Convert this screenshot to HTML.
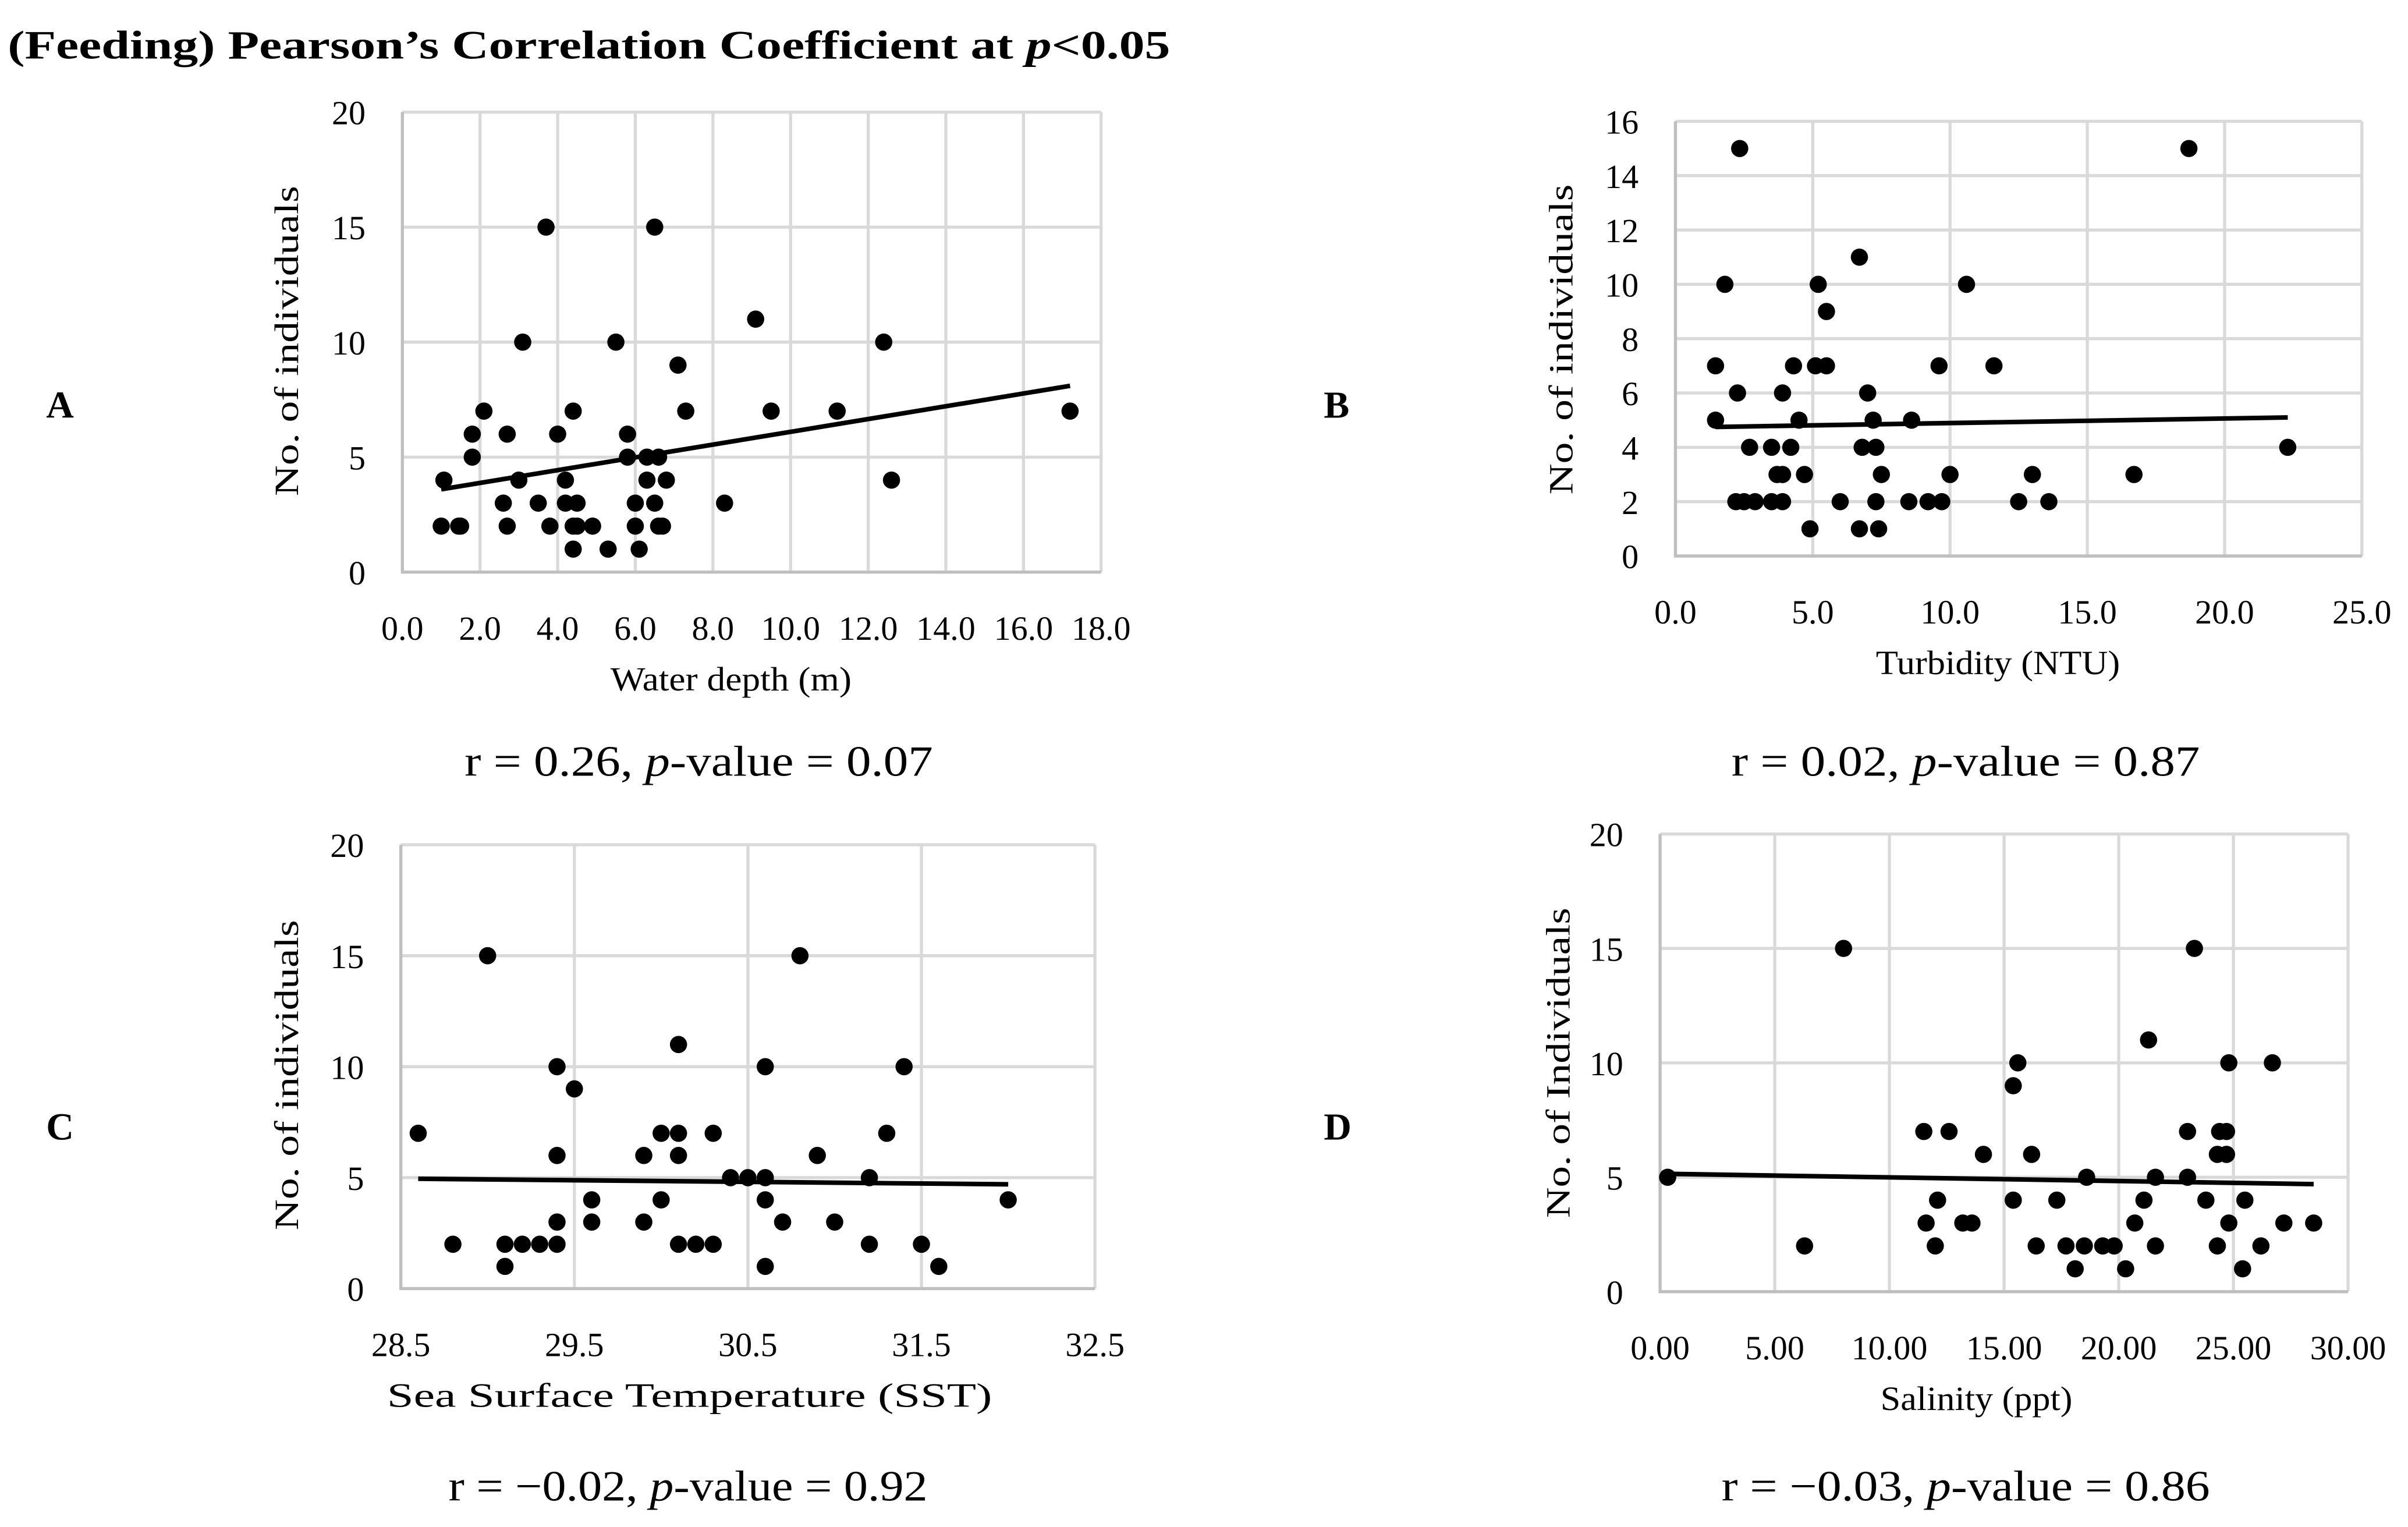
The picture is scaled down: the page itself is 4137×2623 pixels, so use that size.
<!DOCTYPE html>
<html><head><meta charset="utf-8"><style>
html,body{margin:0;padding:0;background:#fff;}
svg{display:block;font-family:"Liberation Serif",serif;}
</style></head><body>
<svg id="fig" xmlns="http://www.w3.org/2000/svg" width="4137" height="2623" viewBox="0 0 1568 994.2">
<rect width="1568" height="994.2" fill="#fff"/>
<text x="5" y="38" font-size="26" font-weight="bold" textLength="757" lengthAdjust="spacingAndGlyphs">(Feeding) Pearson’s Correlation Coefficient at <tspan font-style="italic">p</tspan>&lt;0.05</text>
</svg>
<script>
// Panel A data
const aX=[1.0,1.07,1.45,1.5,1.8,1.8,2.1,2.6,2.7,2.7,3.0,3.1,3.5,3.7,3.8,4.0,4.2,4.2,4.4,4.5,4.4,4.4,4.5,4.9,5.3,5.5,5.8,5.8,6.0,6.0,6.1,6.3,6.3,6.5,6.5,6.6,6.6,6.7,6.8,7.1,7.3,8.3,9.1,9.5,11.2,12.4,12.6,17.2];
const aY=[2,4,2,2,5,6,7,3,2,6,4,10,3,15,2,6,4,3,7,3,2,1,2,2,1,10,6,5,3,2,1,5,4,15,3,5,2,2,4,9,7,3,11,7,7,10,4,7];
const aTrend=[1.0,3.6,17.2,8.1];
const aXTicks=[0,2,4,6,8,10,12,14,16,18];
const aYTicks=[0,5,10,15,20];
// Panel B data
const bX=[1.46,1.46,1.8,2.26,2.34,2.2,2.5,2.7,2.9,3.5,3.5,3.7,3.9,3.9,3.9,4.2,4.3,4.5,4.7,4.9,5.1,5.2,5.5,5.5,6.0,6.7,6.7,6.8,7.0,7.2,7.3,7.3,7.4,7.5,8.5,8.6,9.2,9.6,9.7,10.0,10.6,11.6,12.5,13.0,13.6,16.7,18.7,22.3];
const bY=[7,5,10,6,15,2,2,4,2,4,2,3,3,2,6,4,7,5,3,1,7,10,9,7,2,1,11,4,6,5,4,2,1,3,2,5,2,7,2,3,10,7,2,3,2,3,15,4];
const bTrend=[1.46,4.75,22.3,5.1];
const bXTicks=[0,5,10,15,20,25];
const bYTicks=[0,2,4,6,8,10,12,14,16];
// Panel C data
const cX=[28.6,28.8,29.0,29.1,29.1,29.2,29.3,29.4,29.4,29.4,29.4,29.5,29.6,29.6,29.9,29.9,30.0,30.0,30.1,30.1,30.1,30.1,30.2,30.3,30.3,30.4,30.5,30.6,30.6,30.6,30.6,30.7,30.8,30.9,31.0,31.2,31.2,31.3,31.4,31.5,31.6,32.0];
const cY=[7,2,15,2,1,2,2,10,6,3,2,9,4,3,6,3,7,4,11,7,6,2,2,7,2,5,5,10,5,4,1,3,15,6,3,5,2,7,10,2,1,4];
const cTrend=[28.6,4.95,32.0,4.7];
const cXTicks=[28.5,29.5,30.5,31.5,32.5];
const cYTicks=[0,5,10,15,20];
// Panel D data
const dX=[0.33,6.3,8.0,11.5,11.6,12.0,12.1,12.6,13.2,13.6,14.1,15.4,15.4,15.6,16.2,16.4,17.3,17.7,18.1,18.5,18.6,19.3,19.8,20.3,20.7,21.1,21.3,21.6,21.6,23.0,23.0,23.3,23.8,24.3,24.3,24.4,24.7,24.7,24.8,24.8,25.4,25.5,26.2,26.7,27.2,28.5];
const dY=[5,2,15,7,3,2,4,7,3,3,6,4,9,10,6,2,4,2,1,2,5,2,2,1,3,4,11,2,5,5,7,15,4,6,2,7,7,6,3,10,1,4,2,10,3,3];
const dTrend=[0.33,5.15,28.5,4.7];
const dXTicks=[0,5,10,15,20,25,30];
const dYTicks=[0,5,10,15,20];

const NS="http://www.w3.org/2000/svg";
const svg=document.getElementById('fig');
function mk(tag,attrs,parent){const e=document.createElementNS(NS,tag);for(const k in attrs)e.setAttribute(k,attrs[k]);(parent||svg).appendChild(e);return e;}

function panel(p){
  const g=mk('g',{});
  
  
  const xmin=p.xt[0],xmax=p.xt[p.xt.length-1],ymin=p.yt[0],ymax=p.yt[p.yt.length-1];
  const sx=v=>p.L+(v-xmin)/(xmax-xmin)*(p.R-p.L);
  const sy=v=>p.B-(v-ymin)/(ymax-ymin)*(p.B-p.T);
  p.xt.forEach(t=>{
    const l=mk('line',{x1:sx(t),x2:sx(t),y1:p.T,y2:p.B,stroke:'#d9d9d9','stroke-width':2},g);
    
    
    const tx=mk('text',{x:sx(t),y:p.B+44,'font-size':22,'text-anchor':'middle'},g);
    tx.textContent=t.toFixed(p.dec);
    
    
  });
  p.yt.forEach(t=>{
    const l=mk('line',{x1:p.L,x2:p.R,y1:sy(t),y2:sy(t),stroke:'#d9d9d9','stroke-width':2},g);
    
    
    const tx=mk('text',{x:p.L-24,y:sy(t)+8,'font-size':22,'text-anchor':'end'},g);
    tx.textContent=String(t);
    
    
  });
  const ax=mk('path',{d:`M${p.L},${p.T}V${p.B}H${p.R}`,fill:'none',stroke:'#bfbfbf','stroke-width':2},g);
  
  
  p.x.forEach((v,i)=>{
    const c=mk('circle',{cx:sx(v),cy:sy(p.y[i]),r:5.6,fill:'#000'},g);
    
    
  });
  const tl=mk('line',{x1:sx(p.tr[0]),y1:sy(p.tr[1]),x2:sx(p.tr[2]),y2:sy(p.tr[3]),stroke:'#000','stroke-width':3},g);
  
  
  const yt=mk('text',{x:0,y:0,'font-size':22,'text-anchor':'middle',transform:`translate(${p.ytx},${p.yty}) rotate(-90)`,textLength:202,lengthAdjust:'spacingAndGlyphs'},g);
  yt.textContent=p.ytitle;
  
  
  const xt=mk('text',{x:p.xtx,y:p.B+77,'font-size':22,'text-anchor':'middle',textLength:p.xtw,lengthAdjust:'spacingAndGlyphs'},g);
  xt.textContent=p.xtitle;
  
  
  const lt=mk('text',{x:p.lx,y:p.ly,'font-size':25,'font-weight':'bold'},g);
  lt.textContent=p.letter;
  
  
  const rt=mk('text',{x:p.rx,y:p.ry,'font-size':28,'text-anchor':'middle',textLength:p.rw,lengthAdjust:'spacingAndGlyphs'},g);
  
  
  rt.appendChild(document.createTextNode(p.r1));
  const ts=mk('tspan',{'font-style':'italic'},rt);ts.textContent='p';
  rt.appendChild(document.createTextNode(p.r2));
}
panel({id:'water-depth',L:262,R:717,T:73,B:372.5,xt:aXTicks,yt:aYTicks,x:aX,y:aY,tr:aTrend,dec:1,
  ytitle:'No. of individuals',ytx:194,yty:222,xtitle:'Water depth (m)',xtx:476,xtw:157,
  letter:'A',lx:30,ly:272,r1:'r = 0.26, ',r2:'-value = 0.07',rx:455,ry:505,rw:305});
panel({id:'turbidity',L:1091,R:1538,T:79,B:362,xt:bXTicks,yt:bYTicks,x:bX,y:bY,tr:bTrend,dec:1,
  ytitle:'No. of individuals',ytx:1024,yty:221,xtitle:'Turbidity (NTU)',xtx:1301,xtw:159,
  letter:'B',lx:862,ly:272,r1:'r = 0.02, ',r2:'-value = 0.87',rx:1280,ry:505,rw:305});
panel({id:'sst',L:261,R:713,T:550,B:839,xt:cXTicks,yt:cYTicks,x:cX,y:cY,tr:cTrend,dec:1,
  ytitle:'No. of individuals',ytx:194,yty:700,xtitle:'Sea Surface Temperature (SST)',xtx:449,xtw:394,
  letter:'C',lx:30,ly:742,r1:'r = \u22120.02, ',r2:'-value = 0.92',rx:448,ry:977,rw:312});
panel({id:'salinity',L:1081,R:1529,T:543,B:841,xt:dXTicks,yt:dYTicks,x:dX,y:dY,tr:dTrend,dec:2,
  ytitle:'No. of Individuals',ytx:1022,yty:692,xtitle:'Salinity (ppt)',xtx:1287,xtw:125,
  letter:'D',lx:862,ly:742,r1:'r = \u22120.03, ',r2:'-value = 0.86',rx:1280,ry:977,rw:318});
</script>
</body></html>
